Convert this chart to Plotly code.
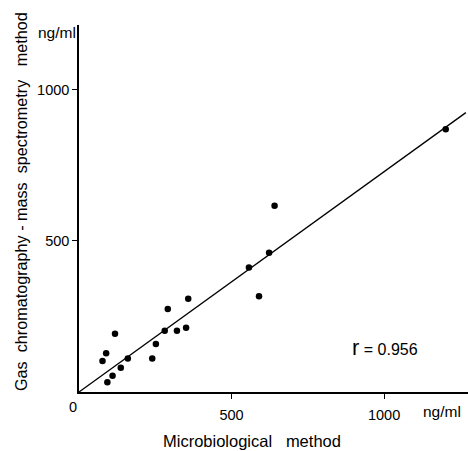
import plotly.graph_objects as go

# Concentrations measured by both methods (ng/ml)
micro = [77, 89, 118, 110, 93, 137, 160, 240, 252, 281, 291, 321, 351, 358,
         557, 590, 623, 641, 1202]
gcms = [103, 128, 193, 54, 32, 80, 111, 111, 159, 203, 275, 203, 213, 309,
        412, 317, 461, 617, 870]

# Regression line endpoints
line_x = [0, 1268]
line_y = [0, 925]

x_ticks = [500, 1000]
y_ticks = [500, 1000]
r_value = "0.956"

FONT = "Liberation Sans, Arial, sans-serif"

# plot area in pixels
L, R, T, B = 79, 0, 25, 59
W, H = 468, 451
PW, PH = W - L - R, H - T - B


def px(xp):
    return (xp - L) / PW


def py(yp):
    return (H - B - yp) / PH


fig = go.Figure()
fig.add_trace(go.Scatter(x=line_x, y=line_y, mode="lines",
                         line=dict(color="black", width=1.3),
                         hoverinfo="skip", showlegend=False))
fig.add_trace(go.Scatter(x=micro, y=gcms, mode="markers",
                         marker=dict(color="black", size=6.5),
                         showlegend=False))

fig.update_layout(
    width=W, height=H,
    margin=dict(l=L, r=R, t=T, b=B),
    paper_bgcolor="white", plot_bgcolor="white",
    font=dict(family=FONT, size=14.5, color="black"),
    xaxis=dict(range=[0, 1275], tickvals=x_ticks, ticktext=[str(v) for v in x_ticks],
               showgrid=False, zeroline=False, showline=True, linecolor="black",
               linewidth=1.5, ticks="outside", ticklen=5, tickwidth=1.2,
               tickcolor="black", tickfont=dict(size=14.5), ticklabelstandoff=4),
    yaxis=dict(range=[0, 1215], tickvals=y_ticks, ticktext=[str(v) for v in y_ticks],
               showgrid=False, zeroline=False, showline=True, linecolor="black",
               linewidth=1.5, ticks="outside", ticklen=5, tickwidth=1.2,
               tickcolor="black", tickfont=dict(size=14.5)),
)

annotations = [
    # origin label
    dict(x=px(73), y=py(407), xref="paper", yref="paper", text="0", showarrow=False,
         xanchor="center", yanchor="middle", font=dict(size=14.5)),
    # x unit
    dict(x=px(442), y=py(412), xref="paper", yref="paper", text="ng/ml",
         showarrow=False, xanchor="center", yanchor="middle", font=dict(size=15.5)),
    # y unit
    dict(x=px(57), y=py(33), xref="paper", yref="paper", text="ng/ml",
         showarrow=False, xanchor="center", yanchor="middle", font=dict(size=15.5)),
    # x title
    dict(x=px(252), y=py(441), xref="paper", yref="paper",
         text="Microbiological\u00a0\u00a0\u00a0method", showarrow=False,
         xanchor="center", yanchor="middle", font=dict(size=16.5)),
    # correlation coefficient
    dict(x=px(350), y=py(347), xref="paper", yref="paper",
         text="<span style='font-size:22px'>r</span>\u00a0=\u00a0" + r_value,
         showarrow=False, xanchor="left", yanchor="middle", font=dict(size=16)),
    # y title, rotated
    dict(x=px(21), y=py(202), xref="paper", yref="paper",
         text="Gas\u00a0\u00a0chromatography\u00a0-\u00a0mass\u00a0\u00a0spectrometry\u00a0\u00a0\u00a0method",
         textangle=-90, showarrow=False, xanchor="center", yanchor="middle",
         font=dict(size=16.2)),
]
fig.update_layout(annotations=annotations)

fig.write_html("out.html")
